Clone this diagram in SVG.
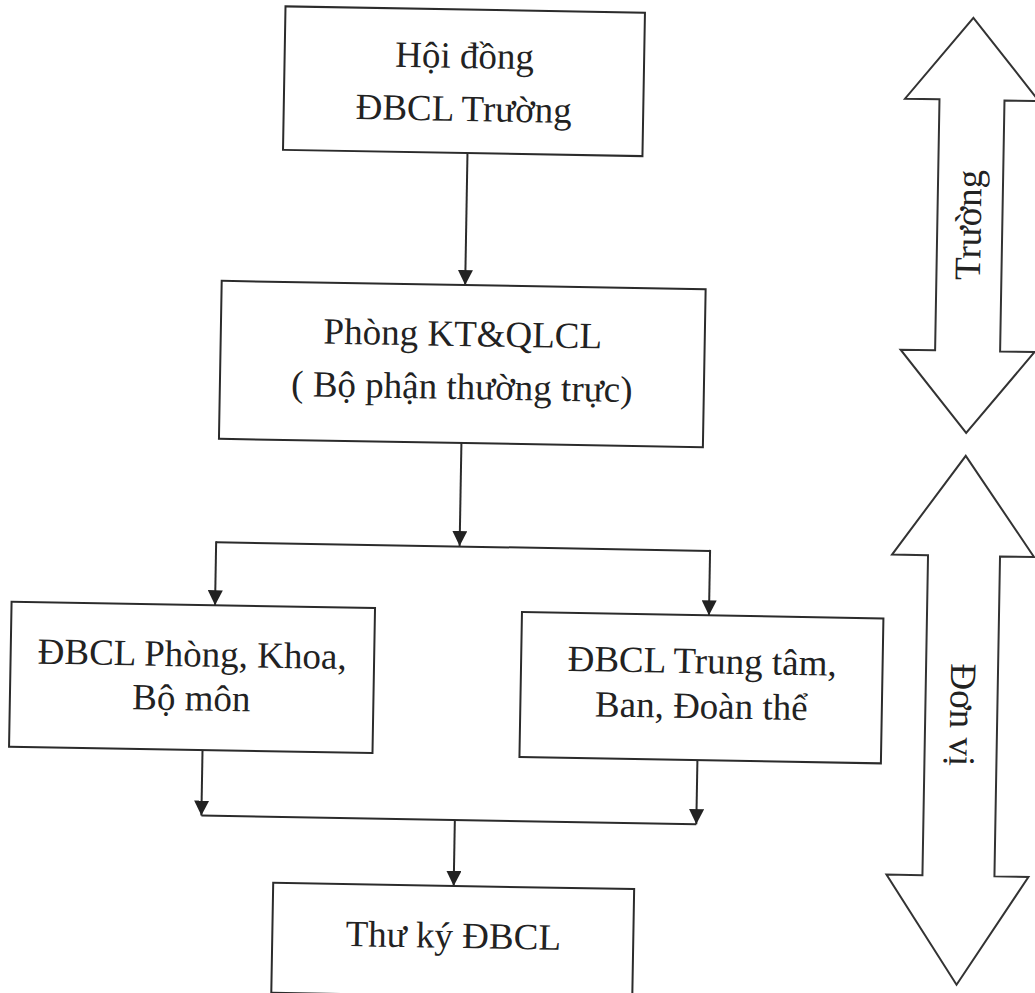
<svg xmlns="http://www.w3.org/2000/svg" width="1035" height="993" viewBox="0 0 1035 993">
<style>
.box{fill:#fff;stroke:#2b2b2b;stroke-width:2}
.lbl{font-family:"Liberation Serif","Times New Roman",serif;font-size:37px;fill:#222;text-anchor:middle}
.con{fill:none;stroke:#2b2b2b;stroke-width:2}
.big{fill:#fff;stroke:#333;stroke-width:2;stroke-linejoin:miter}
</style>
<defs>
<marker id="ah" viewBox="0 0 15 15" markerWidth="15" markerHeight="15" refX="15" refY="7.5" orient="auto" markerUnits="userSpaceOnUse">
<path d="M0,0 L15,7.5 L0,15 z" fill="#222"/>
</marker>
</defs>
<rect width="1035" height="993" fill="#fff"/>
<g transform="rotate(1 517 496)">
<g id="connectors">
<line class="con" x1="461.5" y1="154" x2="461.5" y2="286" marker-end="url(#ah)"/>
<line class="con" x1="460.5" y1="444" x2="460.5" y2="547" marker-end="url(#ah)"/>
<line class="con" x1="217" y1="547.5" x2="711" y2="547.5"/>
<line class="con" x1="217" y1="546.5" x2="217" y2="610.5" marker-end="url(#ah)"/>
<line class="con" x1="711" y1="546.5" x2="711" y2="612" marker-end="url(#ah)"/>
<line class="con" x1="207" y1="755.5" x2="207" y2="821" marker-end="url(#ah)"/>
<line class="con" x1="702" y1="757" x2="702" y2="821" marker-end="url(#ah)"/>
<line class="con" x1="207" y1="821" x2="702" y2="821"/>
<line class="con" x1="460.5" y1="821" x2="460.5" y2="887" marker-end="url(#ah)"/>
</g>
<g id="n1">
<rect class="box" x="277" y="10.5" width="359.5" height="143.5"/>
<text class="lbl" x="457" y="69">Hội đồng</text>
<text class="lbl" x="457" y="122">ĐBCL Trường</text>
</g>
<g id="n2">
<rect class="box" x="218" y="286" width="484" height="158"/>
<text class="lbl" x="460" y="347">Phòng KT&amp;QLCL</text>
<text class="lbl" x="460" y="400">( Bộ phận thường trực)</text>
</g>
<g id="n3">
<rect class="box" x="13.5" y="610.5" width="363.5" height="145"/>
<text class="lbl" x="195" y="672">ĐBCL Phòng, Khoa,</text>
<text class="lbl" x="195" y="716">Bộ môn</text>
</g>
<g id="n4">
<rect class="box" x="524" y="612" width="361.5" height="145"/>
<text class="lbl" x="705" y="670">ĐBCL Trung tâm,</text>
<text class="lbl" x="705" y="715">Ban, Đoàn thể</text>
</g>
<g id="n5">
<rect class="box" x="280" y="887" width="361" height="110"/>
<text class="lbl" x="461" y="949">Thư ký ĐBCL</text>
</g>
<g id="truong">
<polygon class="big" points="965,10 1032,92 997.5,92 997.5,343 1032,343 965,425 898,343 932.5,343 932.5,92 898,92"/>
<text class="lbl" transform="translate(976 217) rotate(-90)" x="0" y="0">Trường</text>
</g>
<g id="donvi">
<polygon class="big" points="965,448 1035,548 1001,548 1001,868 1035,868 965,977 893,868 929,868 929,548 893,548"/>
<text class="lbl" transform="translate(954 707) rotate(90)" x="0" y="0">Đơn vị</text>
</g>
</g>
</svg>
